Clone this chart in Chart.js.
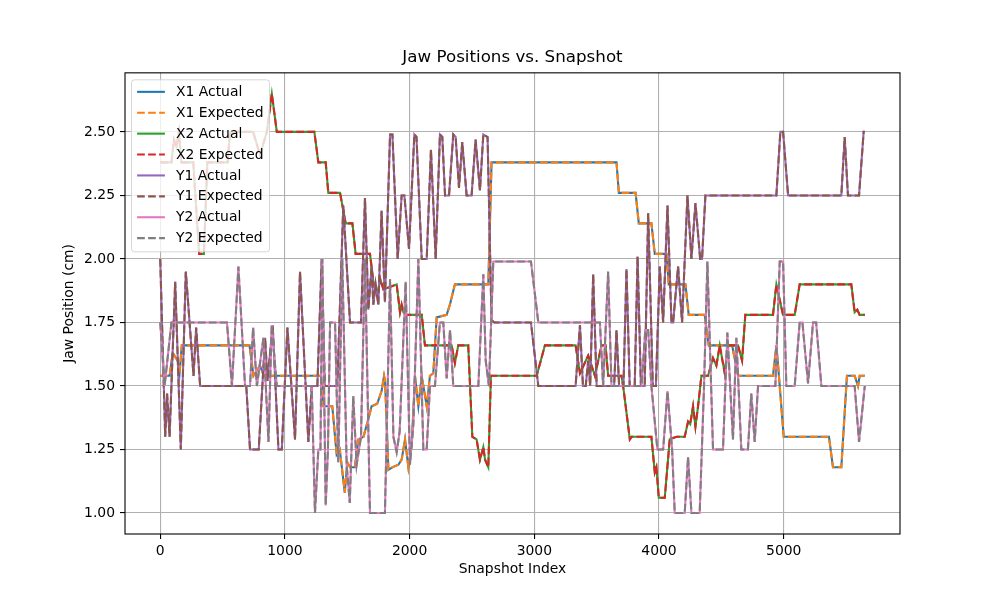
<!DOCTYPE html>
<html>
<head>
<meta charset="utf-8">
<script src="https://cdn.jsdelivr.net/npm/chart.js@4.4.1/dist/chart.umd.min.js"></script>
<style>
  html, body { margin: 0; padding: 0; background: #fff; }
  #wrap { width: 1000px; height: 600px; position: relative; }
</style>
</head>
<body>
<div id="wrap"><canvas id="jaw-chart"></canvas></div>
<script>
// 刻度
const xTicks = [0, 1000, 2000, 3000, 4000, 5000];
const yTicks = [1.00, 1.25, 1.50, 1.75, 2.00, 2.25, 2.50];

// [snapshot index, position cm] 讀圖估計的轉折點
const x1Points = [
  [0,1.54],[75,1.54],[100,1.63],[140,1.60],[155,1.55],[173,1.66],[716,1.66],[748,1.54],[800,1.58],[830,1.54],
  [1290,1.54],[1308,1.42],[1380,1.42],[1402,1.30],[1415,1.23],[1440,1.25],[1480,1.08],[1500,1.20],[1522,1.18],
  [1560,1.18],[1589,1.29],[1630,1.30],[1669,1.37],[1695,1.42],[1740,1.43],[1775,1.48],[1795,1.54],[1803,1.52],
  [1830,1.17],[1860,1.18],[1910,1.19],[1936,1.21],[1963,1.29],[1990,1.18],[2017,1.27],[2043,1.54],[2070,1.42],
  [2097,1.54],[2137,1.42],[2163,1.54],[2190,1.55],[2217,1.77],[2297,1.78],[2323,1.82],[2363,1.90],[2631,1.90],
  [2657,2.38],[3659,2.38],[3678,2.26],[3812,2.26],[3838,2.14],[3939,2.14],[3966,2.02],[4060,2.02],[4078,1.90],
  [4212,1.90],[4238,1.78],[4366,1.78],[4399,1.66],[4586,1.66],[4634,1.54],[4914,1.54],[4941,1.66],[4955,1.58],
  [5000,1.30],[5363,1.30],[5395,1.18],[5462,1.18],[5507,1.54],[5569,1.54],[5596,1.50],[5609,1.54],[5650,1.54]
];
const x2Points = [
  [0,2.38],[90,2.38],[110,2.47],[130,2.44],[150,2.50],[170,2.38],[265,2.38],[312,2.02],[350,2.02],[378,2.38],
  [540,2.38],[560,2.50],[745,2.50],[800,2.41],[855,2.50],[895,2.65],[935,2.50],[1236,2.50],[1268,2.38],[1327,2.38],
  [1348,2.26],[1442,2.26],[1487,2.14],[1541,2.14],[1567,2.02],[1682,2.02],[1712,1.90],[1740,1.86],[1765,1.92],
  [1790,1.88],[1896,1.90],[1923,1.79],[1936,1.82],[1950,1.79],[1976,1.78],[2097,1.78],[2123,1.66],[2337,1.66],
  [2363,1.59],[2390,1.66],[2470,1.66],[2503,1.30],[2537,1.29],[2564,1.21],[2591,1.26],[2605,1.21],[2631,1.18],
  [2652,1.54],[3019,1.54],[3085,1.66],[3331,1.66],[3366,1.55],[3432,1.62],[3486,1.54],[3539,1.66],[3571,1.66],
  [3592,1.54],[3699,1.54],[3715,1.49],[3766,1.29],[3780,1.30],[3939,1.30],[3966,1.16],[3979,1.18],[3998,1.06],
  [4046,1.06],[4086,1.29],[4140,1.30],[4206,1.30],[4233,1.36],[4250,1.35],[4273,1.42],[4292,1.34],[4313,1.42],
  [4340,1.54],[4393,1.54],[4433,1.61],[4460,1.58],[4487,1.66],[4527,1.55],[4553,1.66],[4633,1.66],[4666,1.60],
  [4692,1.78],[4914,1.78],[4941,1.90],[4981,1.81],[4995,1.78],[5088,1.78],[5128,1.90],[5542,1.90],[5569,1.79],
  [5590,1.80],[5609,1.78],[5650,1.78]
];
const y1Points = [
  [0,2.00],[40,1.30],[55,1.47],[75,1.30],[120,1.91],[165,1.25],[205,1.95],[267,1.54],[288,1.73],[320,1.50],
  [560,1.50],[690,1.50],[720,1.25],[790,1.25],[841,1.69],[860,1.52],[902,1.74],[948,1.25],[975,1.25],[1020,1.73],
  [1081,1.29],[1121,1.95],[1188,1.28],[1215,1.50],[1260,1.50],[1295,2.00],[1320,1.50],[1420,1.50],[1468,2.21],
  [1522,1.75],[1610,1.75],[1642,2.24],[1669,1.80],[1695,1.97],[1709,1.82],[1727,1.90],[1749,1.82],[1775,2.19],
  [1802,1.83],[1843,2.49],[1862,2.49],[1904,2.00],[1936,2.25],[1958,2.25],[1995,2.04],[2038,2.49],[2055,2.48],
  [2097,2.00],[2137,2.00],[2171,2.43],[2209,2.00],[2243,2.49],[2262,2.48],[2284,2.25],[2316,2.25],[2350,2.49],
  [2369,2.48],[2396,2.28],[2422,2.46],[2457,2.25],[2497,2.25],[2529,2.47],[2564,2.27],[2591,2.49],[2625,2.48],
  [2657,1.76],[2679,1.75],[2973,1.75],[3032,1.50],[3331,1.50],[3366,1.74],[3390,1.50],[3412,1.50],[3432,1.60],
  [3448,1.50],[3472,1.94],[3500,1.50],[3640,1.50],[3659,1.72],[3680,1.50],[3715,1.50],[3739,1.96],[3765,1.50],
  [3805,1.50],[3828,2.01],[3855,1.50],[3885,1.50],[3913,2.18],[3950,1.50],[3975,1.50],[4006,1.97],[4033,1.75],
  [4068,2.21],[4100,1.75],[4113,1.75],[4153,1.97],[4185,1.75],[4228,2.25],[4260,2.00],[4292,2.22],[4330,2.00],
  [4345,2.00],[4372,2.25],[4941,2.25],[4973,2.50],[4995,2.50],[5035,2.25],[5462,2.25],[5489,2.48],[5515,2.25],
  [5604,2.25],[5641,2.50],[5650,2.50]
];
const y2Points = [
  [0,1.75],[35,1.50],[90,1.75],[535,1.75],[575,1.50],[627,1.97],[680,1.50],[720,1.50],[745,1.73],[775,1.50],
  [828,1.69],[868,1.28],[894,1.74],[935,1.50],[1190,1.50],[1215,1.50],[1241,1.00],[1268,1.25],[1285,1.25],
  [1300,2.00],[1327,1.03],[1345,1.25],[1362,1.75],[1402,1.75],[1428,1.20],[1460,2.00],[1495,1.19],[1520,1.04],
  [1548,1.46],[1575,1.19],[1610,1.30],[1642,2.00],[1682,1.00],[1802,1.00],[1843,1.92],[1870,1.30],[1896,1.24],
  [1920,1.32],[1968,1.91],[2003,1.19],[2030,1.35],[2070,2.00],[2110,1.25],[2137,1.25],[2163,1.50],[2203,1.50],
  [2243,1.75],[2270,1.75],[2297,1.53],[2324,1.72],[2350,1.50],[2551,1.50],[2591,1.94],[2610,1.60],[2636,1.50],
  [2671,1.99],[2973,1.99],[3032,1.75],[3526,1.75],[3552,1.50],[3592,1.95],[3619,1.50],[3860,1.50],[3890,1.72],
  [3913,1.72],[3939,1.50],[3987,1.25],[4033,1.25],[4068,1.48],[4105,1.25],[4126,1.00],[4206,1.00],[4233,1.22],
  [4260,1.00],[4326,1.00],[4361,1.50],[4388,1.99],[4433,1.25],[4513,1.25],[4548,1.71],[4593,1.29],[4620,1.69],
  [4660,1.25],[4713,1.25],[4740,1.47],[4767,1.28],[4794,1.50],[4933,1.50],[4968,1.99],[4995,1.99],[5021,1.50],
  [5088,1.50],[5128,1.75],[5150,1.75],[5195,1.51],[5235,1.75],[5260,1.75],[5302,1.50],[5569,1.50],[5604,1.28],
  [5650,1.50]
];

// Actual 與 Expected 在圖上完全重疊，共用同一組資料
const seriesLabels = ['X1 Actual', 'X1 Expected', 'X2 Actual', 'X2 Expected',
                      'Y1 Actual', 'Y1 Expected', 'Y2 Actual', 'Y2 Expected'];
const seriesPoints = [x1Points, x1Points, x2Points, x2Points, y1Points, y1Points, y2Points, y2Points];
const seriesColors = ['#1f77b4', '#ff7f0e', '#2ca02c', '#d62728', '#9467bd', '#8c564b', '#e377c2', '#7f7f7f'];

const FONT = 'DejaVu Sans';
const DASH = [7.7, 3.3];
const LINE_W = 2.08;

// 四邊外框（matplotlib spines）
const spines = {
  id: 'spines',
  afterDatasetsDraw(chart) {
    const { ctx, chartArea: a } = chart;
    ctx.save();
    ctx.strokeStyle = '#000';
    ctx.lineWidth = 1.1;
    ctx.strokeRect(a.left, a.top, a.right - a.left, a.bottom - a.top);
    ctx.restore();
  }
};

// 圖內左上角圖例
const insideLegend = {
  id: 'insideLegend',
  afterDraw(chart) {
    const { ctx, chartArea: a } = chart;
    const x0 = a.left + 6.5, y0 = a.top + 7;
    const w = 138, h = 172, rowH = 20.9;
    ctx.save();
    ctx.beginPath();
    ctx.roundRect(x0, y0, w, h, 3);
    ctx.fillStyle = 'rgba(255,255,255,0.8)';
    ctx.fill();
    ctx.strokeStyle = 'rgba(204,204,204,0.8)';
    ctx.lineWidth = 1;
    ctx.stroke();
    ctx.font = `13.9px "${FONT}"`;
    ctx.textBaseline = 'middle';
    chart.data.datasets.forEach((ds, i) => {
      const cy = y0 + 12 + i * rowH;
      ctx.beginPath();
      ctx.setLineDash(ds.borderDash || []);
      ctx.strokeStyle = ds.borderColor;
      ctx.lineWidth = LINE_W;
      ctx.moveTo(x0 + 5.6, cy);
      ctx.lineTo(x0 + 33.4, cy);
      ctx.stroke();
      ctx.setLineDash([]);
      ctx.fillStyle = '#000';
      ctx.fillText(ds.label, x0 + 44.5, cy + 0.5);
    });
    ctx.restore();
  }
};

const datasets = seriesLabels.map((label, i) => ({
  label,
  data: seriesPoints[i].map(([x, y]) => ({ x, y })),
  borderColor: seriesColors[i],
  backgroundColor: seriesColors[i],
  borderWidth: LINE_W,
  borderDash: label.endsWith('Expected') ? DASH : [],
  pointRadius: 0,
  tension: 0,
  fill: false,
  order: seriesLabels.length - 1 - i, // 後畫的在上層
}));

new Chart(document.getElementById('jaw-chart'), {
  type: 'line',
  data: { datasets },
  options: {
    responsive: true,
    maintainAspectRatio: false,
    animation: false,
    parsing: false,
    layout: { padding: { left: 0, right: 100, top: 0, bottom: 0 } },
    plugins: {
      legend: { display: false },
      tooltip: { enabled: false },
      title: {
        display: true,
        fullSize: false, // 置中於繪圖區上方
        text: 'Jaw Positions vs. Snapshot',
        color: '#000',
        font: { family: FONT, size: 16.7, weight: 'normal' },
        padding: { top: 48, bottom: 4.8 },
      },
    },
    scales: {
      x: {
        type: 'linear',
        min: -282.5,
        max: 5932.5,
        afterBuildTicks: (axis) => { axis.ticks = xTicks.map((v) => ({ value: v })); },
        afterFit: (axis) => { axis.height = 66; },
        ticks: {
          autoSkip: false,
          maxRotation: 0,
          color: '#000',
          padding: 4,
          font: { family: FONT, size: 13.9 },
          callback: (v) => String(v),
        },
        grid: { color: '#b0b0b0', lineWidth: 1.1, tickColor: '#000', tickLength: 5 },
        border: { display: false },
        title: {
          display: true,
          text: 'Snapshot Index',
          color: '#000',
          font: { family: FONT, size: 13.9 },
          padding: { top: 0, bottom: 22.5 },
        },
      },
      y: {
        type: 'linear',
        min: 0.9175,
        max: 2.7325,
        afterBuildTicks: (axis) => { axis.ticks = yTicks.map((v) => ({ value: v })); },
        afterFit: (axis) => { axis.width = 125; },
        ticks: {
          autoSkip: false,
          color: '#000',
          padding: 5,
          font: { family: FONT, size: 13.9 },
          callback: (v) => Number(v).toFixed(2),
        },
        grid: { color: '#b0b0b0', lineWidth: 1.1, tickColor: '#000', tickLength: 5 },
        border: { display: false },
        title: {
          display: true,
          text: 'Jaw Position (cm)',
          color: '#000',
          font: { family: FONT, size: 13.9 },
          padding: { top: 61.5, bottom: 0 },
        },
      },
    },
  },
  plugins: [spines, insideLegend],
});
</script>
</body>
</html>
